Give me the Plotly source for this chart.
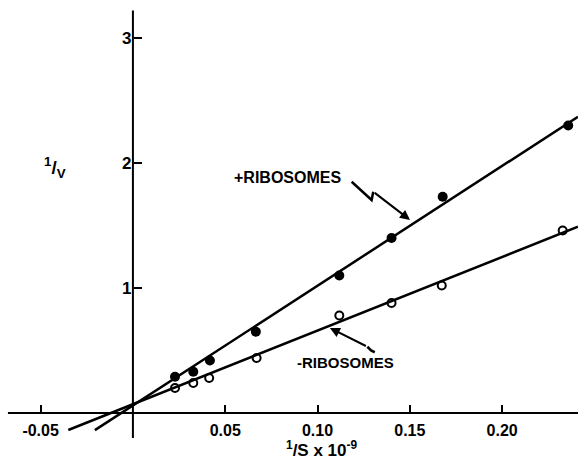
import plotly.graph_objects as go

# Double-reciprocal (Lineweaver-Burk) data: 1/S (x 10^-9) vs 1/v
s_inv_plus = [0.0228, 0.0327, 0.0417, 0.0666, 0.1118, 0.1401, 0.1678, 0.2358]
v_inv_plus = [0.29, 0.33, 0.42, 0.65, 1.10, 1.40, 1.73, 2.30]

s_inv_minus = [0.0228, 0.0327, 0.0413, 0.0670, 0.1118, 0.1401, 0.1673, 0.2328]
v_inv_minus = [0.20, 0.24, 0.28, 0.44, 0.78, 0.88, 1.02, 1.46]

# Fitted straight lines (end points)
plus_fit_x = [-0.0206, 0.2411]
plus_fit_y = [-0.137, 2.37]
minus_fit_x = [-0.035, 0.2411]
minus_fit_y = [-0.136, 1.49]

x_ticks = [-0.05, 0.05, 0.10, 0.15, 0.20]
x_tick_text = ["-0.05", "0.05", "0.10", "0.15", "0.20"]
y_ticks = [1, 2, 3]
y_tick_text = ["1", "2", "3"]

X_RANGE = [-0.0720, 0.2411]
Y_RANGE = [-0.432, 3.304]
FONT = "Liberation Sans, Arial, sans-serif"


def bold(size):
    return dict(family=FONT, size=size, color="black", weight="bold")


fig = go.Figure()

fig.add_trace(go.Scatter(x=plus_fit_x, y=plus_fit_y, mode="lines",
                         line=dict(color="black", width=2.5), hoverinfo="skip"))
fig.add_trace(go.Scatter(x=minus_fit_x, y=minus_fit_y, mode="lines",
                         line=dict(color="black", width=2.5), hoverinfo="skip"))
fig.add_trace(go.Scatter(x=s_inv_plus, y=v_inv_plus, mode="markers",
                         marker=dict(symbol="circle", size=10, color="black")))
fig.add_trace(go.Scatter(x=s_inv_minus, y=v_inv_minus, mode="markers",
                         marker=dict(symbol="circle-open", size=8, color="black",
                                     line=dict(width=2, color="black"))))

# Axis lines crossing at the origin
fig.add_shape(type="line", x0=-0.0677, x1=X_RANGE[1], y0=0, y1=0,
              line=dict(color="black", width=2))
fig.add_shape(type="line", x0=0, x1=0, y0=-0.2, y1=3.22,
              line=dict(color="black", width=2))

# Zig-zag pointer for the +ribosomes line
fig.add_shape(type="path",
              path="M 0.1185,1.850 L 0.1293,1.704 L 0.1302,1.770",
              line=dict(color="black", width=2.5))
fig.add_annotation(x=0.1501, y=1.544, ax=0.1302, ay=1.770, axref="x", ayref="y",
                   text="", showarrow=True, arrowhead=2, arrowsize=1,
                   arrowwidth=2, arrowcolor="black")

# Hooked pointer for the -ribosomes line
fig.add_shape(type="path",
              path="M 0.1310,0.486 L 0.1290,0.500 L 0.1270,0.530",
              line=dict(color="black", width=2.5))
fig.add_annotation(x=0.1067, y=0.680, ax=0.1270, ay=0.530, axref="x", ayref="y",
                   text="", showarrow=True, arrowhead=2, arrowsize=1,
                   arrowwidth=2, arrowcolor="black")

fig.add_annotation(x=0.0840, y=1.888, text="+RIBOSOMES", showarrow=False,
                   font=bold(16))
fig.add_annotation(x=0.1154, y=0.408, text="-RIBOSOMES", showarrow=False,
                   font=bold(15))

# Axis titles
fig.add_annotation(x=-0.0420, y=1.968, text="<sup>1</sup>/<sub>V</sub>",
                   showarrow=False, font=bold(19))
fig.add_annotation(x=0.1024, y=-0.288, text="<sup>1</sup>/S x 10<sup>-9</sup>",
                   showarrow=False, font=bold(17))

fig.update_layout(
    width=578, height=467,
    margin=dict(l=0, r=0, t=0, b=0),
    paper_bgcolor="white", plot_bgcolor="white",
    showlegend=False,
    xaxis=dict(range=X_RANGE, anchor="free", position=(467 - 413) / 467,
               showgrid=False, zeroline=False, showline=False,
               ticks="inside", ticklen=8, tickwidth=2, tickcolor="black",
               ticklabelstandoff=6,
               tickvals=x_ticks, ticktext=x_tick_text,
               tickfont=bold(16)),
    yaxis=dict(range=Y_RANGE, anchor="free", position=132.5 / 578,
               showgrid=False, zeroline=False, showline=False,
               ticks="inside", ticklen=8, tickwidth=2, tickcolor="black",
               ticklabelstandoff=1,
               tickvals=y_ticks, ticktext=y_tick_text,
               tickfont=bold(17)),
)

fig.write_html("out.html")
